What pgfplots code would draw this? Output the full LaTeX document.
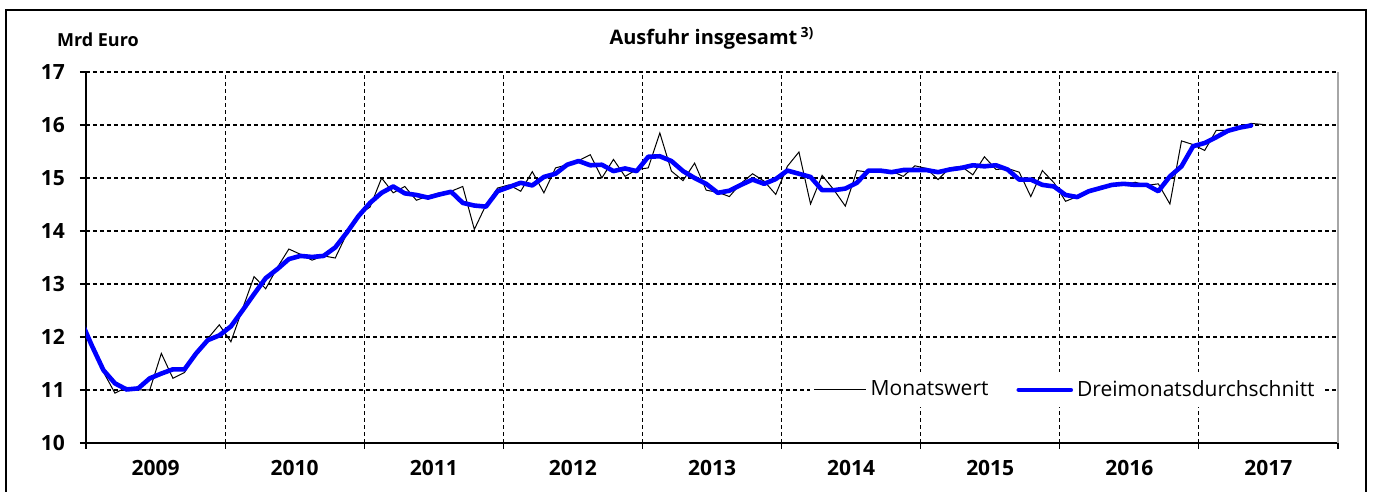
\documentclass[border=0pt]{standalone}
\usepackage{fontspec}
\setmainfont{Open Sans}
\usepackage{pgfplots}
\usepackage{pgfplotstable}
\pgfplotsset{compat=1.18}
\pgfplotstableread{
x y
-0.5 12.3
0.5 11.8
1.5 11.34
2.5 10.94
3.5 11.05
4.5 11.0
5.5 11.0
6.5 11.69
7.5 11.22
8.5 11.33
9.5 11.72
10.5 11.97
11.5 12.23
12.5 11.91
13.5 12.53
14.5 13.14
15.5 12.91
16.5 13.31
17.5 13.66
18.5 13.56
19.5 13.45
20.5 13.53
21.5 13.49
22.5 13.95
23.5 14.31
24.5 14.45
25.5 15.0
26.5 14.72
27.5 14.84
28.5 14.58
29.5 14.66
30.5 14.72
31.5 14.75
32.5 14.84
33.5 14.03
34.5 14.49
35.5 14.81
36.5 14.87
37.5 14.75
38.5 15.12
39.5 14.72
40.5 15.19
41.5 15.25
42.5 15.33
43.5 15.44
44.5 15.0
45.5 15.35
46.5 15.03
47.5 15.16
48.5 15.19
49.5 15.85
50.5 15.13
51.5 14.95
52.5 15.28
53.5 14.77
54.5 14.73
55.5 14.65
56.5 14.9
57.5 15.08
58.5 14.94
59.5 14.69
60.5 15.22
61.5 15.49
62.5 14.51
63.5 15.05
64.5 14.78
65.5 14.47
66.5 15.14
67.5 15.11
68.5 15.13
69.5 15.13
70.5 15.03
71.5 15.23
72.5 15.18
73.5 14.97
74.5 15.19
75.5 15.22
76.5 15.06
77.5 15.4
78.5 15.16
79.5 15.18
80.5 15.11
81.5 14.65
82.5 15.14
83.5 14.91
84.5 14.56
85.5 14.65
86.5 14.74
87.5 14.84
88.5 14.87
89.5 14.87
90.5 14.92
91.5 14.86
92.5 14.89
93.5 14.51
94.5 15.7
95.5 15.63
96.5 15.52
97.5 15.9
98.5 15.9
99.5 15.94
100.5 16.03
101.5 16.01
}\monat
\pgfplotstableread{
x y
-0.5 12.34
0.5 11.84
1.5 11.375
2.5 11.125
3.5 11.01
4.5 11.03
5.5 11.22
6.5 11.31
7.5 11.39
8.5 11.39
9.5 11.69
10.5 11.94
11.5 12.03
12.5 12.2
13.5 12.5
14.5 12.81
15.5 13.11
16.5 13.28
17.5 13.47
18.5 13.53
19.5 13.51
20.5 13.53
21.5 13.69
22.5 13.97
23.5 14.28
24.5 14.53
25.5 14.72
26.5 14.84
27.5 14.71
28.5 14.68
29.5 14.63
30.5 14.69
31.5 14.74
32.5 14.53
33.5 14.48
34.5 14.46
35.5 14.75
36.5 14.83
37.5 14.91
38.5 14.86
39.5 15.02
40.5 15.08
41.5 15.25
42.5 15.32
43.5 15.24
44.5 15.25
45.5 15.13
46.5 15.18
47.5 15.13
48.5 15.40
49.5 15.41
50.5 15.32
51.5 15.13
52.5 15.0
53.5 14.89
54.5 14.72
55.5 14.76
56.5 14.87
57.5 14.97
58.5 14.89
59.5 14.98
60.5 15.14
61.5 15.08
62.5 15.02
63.5 14.77
64.5 14.77
65.5 14.80
66.5 14.91
67.5 15.14
68.5 15.14
69.5 15.11
70.5 15.15
71.5 15.15
72.5 15.15
73.5 15.11
74.5 15.16
75.5 15.19
76.5 15.24
77.5 15.22
78.5 15.24
79.5 15.16
80.5 14.97
81.5 14.97
82.5 14.87
83.5 14.84
84.5 14.68
85.5 14.64
86.5 14.75
87.5 14.81
88.5 14.87
89.5 14.89
90.5 14.87
91.5 14.87
92.5 14.75
93.5 15.03
94.5 15.22
95.5 15.6
96.5 15.66
97.5 15.77
98.5 15.89
99.5 15.95
100.5 15.99
}\drei
\begin{document}
\begin{tikzpicture}
\useasboundingbox (-43pt,-24.5pt) rectangle (643.5pt,221.5pt);
\draw[black, line width=0.8pt] (-40pt,-40pt) -- (-40pt,216.5pt) -- (640pt,216.5pt) -- (640pt,-40pt);
\begin{axis}[
  at={(0pt,0pt)}, anchor=south west,
  scale only axis, width=626pt, height=185.5pt,
  xmin=0, xmax=108, ymin=10, ymax=17,
  axis x line*=bottom, axis y line*=left,
  axis line style={line width=1pt, -},
  xtick={0,12,...,108}, xticklabels={},
  ytick={10,11,...,17},
  extra x ticks={6,18,...,102},
  extra x tick labels={2009,\raisebox{-1.5pt}{2010},2011,2012,\raisebox{-1pt}{2013},2014,\raisebox{-1.5pt}{2015},2016,2017},
  extra x tick style={grid=none, major tick length=0pt, tick label style={yshift=-5pt}},
  grid=major,
  grid style={black, line width=0.55pt, dash pattern=on 2pt off 1.5pt},
  tick align=outside, major tick length=3pt,
  tick style={black, line width=0.6pt},
  ticklabel style={font=\bfseries\fontsize{10.5}{12}\selectfont},
  yticklabel style={xshift=-4pt},
  /pgf/number format/assume math mode=true,
  clip mode=individual,
  legend style={at={(0.988,0.143)}, anchor=east, draw=none, fill=white,
    legend columns=2, font=\fontsize{10.5}{12}\selectfont, inner sep=2pt,
    /tikz/every even column/.append style={column sep=12pt}},
  legend cell align=left,
  legend image code/.code={\draw[#1] (0pt,0pt) -- (26pt,0pt);},
]
\addplot[black, line width=0.5pt] table {\monat};
\addlegendentry{Monatswert}
\addplot[blue, line width=2.3pt, line join=round, line cap=round] table {\drei};
\addlegendentry{Dreimonatsdurchschnitt}
\draw[gray!70, line width=0.8pt] (rel axis cs:1,0) -- (rel axis cs:1,1);
\end{axis}
\node[anchor=west, font=\bfseries\fontsize{9}{11}\selectfont] at (-18pt,201.5pt) {Mrd Euro};
\node[font=\bfseries\fontsize{10}{12}\selectfont] at (313pt,202.5pt) {Ausfuhr insgesamt\,\textsuperscript{3)}};
\end{tikzpicture}
\end{document}
